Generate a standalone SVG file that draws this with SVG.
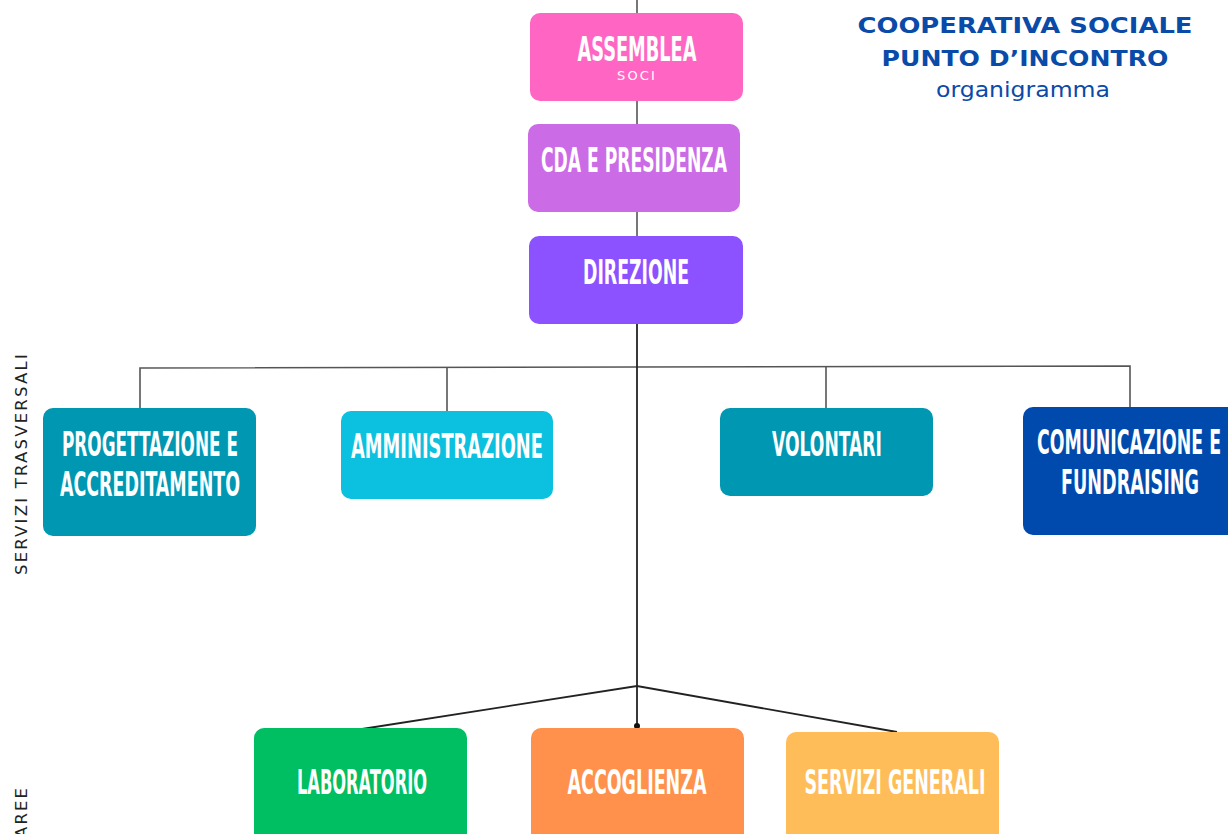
<svg xmlns="http://www.w3.org/2000/svg" width="1228" height="834" viewBox="0 0 1228 834">
<style>
.box{stroke:none}
.lbl{font-family:"Liberation Sans Narrow","DejaVu Sans Condensed","Liberation Sans",sans-serif;font-weight:bold;font-size:34px;fill:#ffffff;text-anchor:middle}
.ttl{font-family:"DejaVu Sans","Liberation Sans",sans-serif;font-weight:bold;font-size:22px;fill:#0a4aa8;text-anchor:middle}
.sub{font-family:"DejaVu Sans","Liberation Sans",sans-serif;font-size:21px;fill:#0a4aa8;text-anchor:middle}
.side{font-family:"DejaVu Sans","Liberation Sans",sans-serif;font-size:15px;fill:#222;letter-spacing:2px}
.ln{stroke:#555;stroke-width:1.6;fill:none}
.lk{stroke:#222;stroke-width:1.8;fill:none}
</style>
<rect width="1228" height="834" fill="#ffffff"/>
<g id="connectors">
<line class="ln" x1="637" y1="0" x2="637" y2="13"/>
<line class="ln" x1="637" y1="101" x2="637" y2="124"/>
<line class="ln" x1="637" y1="212" x2="637" y2="236"/>
<polyline class="ln" points="140,408 140,368 1130,366 1130,407"/>
<line class="ln" x1="447" y1="367" x2="447" y2="411"/>
<line class="ln" x1="826" y1="367" x2="826" y2="408"/>
<line class="lk" x1="637" y1="324" x2="637" y2="727"/>
<polyline class="lk" points="362,729 637,686 897,732"/>
<circle cx="637" cy="726" r="3" fill="#111"/>
</g>
<g id="title">
<text class="ttl" x="1025" y="33" textLength="335" lengthAdjust="spacingAndGlyphs">COOPERATIVA SOCIALE</text>
<text class="ttl" x="1025" y="66" textLength="287" lengthAdjust="spacingAndGlyphs">PUNTO D’INCONTRO</text>
<text class="sub" x="1023" y="97" textLength="174" lengthAdjust="spacingAndGlyphs">organigramma</text>
</g>
<g id="side-labels">
<text class="side" transform="translate(27,575) rotate(-90)" textLength="223" lengthAdjust="spacingAndGlyphs">SERVIZI TRASVERSALI</text>
<text class="side" transform="translate(27,838) rotate(-90)" textLength="52" lengthAdjust="spacingAndGlyphs">AREE</text>
</g>
<g id="assemblea">
<rect class="box" x="530" y="13" width="213" height="88" rx="10" fill="#ff66c4"/>
<text class="lbl" x="637" y="61" textLength="119" lengthAdjust="spacingAndGlyphs">ASSEMBLEA</text>
<text x="637" y="80" text-anchor="middle" font-family="DejaVu Sans,Liberation Sans,sans-serif" font-size="12" fill="#ffffff" letter-spacing="2" textLength="40" lengthAdjust="spacingAndGlyphs">SOCI</text>
</g>
<g id="cda">
<rect class="box" x="528" y="124" width="212" height="88" rx="10" fill="#cb6ce6"/>
<text class="lbl" x="634" y="172" textLength="186" lengthAdjust="spacingAndGlyphs">CDA E PRESIDENZA</text>
</g>
<g id="direzione">
<rect class="box" x="529" y="236" width="214" height="88" rx="10" fill="#8c52ff"/>
<text class="lbl" x="636" y="284" textLength="106" lengthAdjust="spacingAndGlyphs">DIREZIONE</text>
</g>
<g id="progettazione">
<rect class="box" x="43" y="408" width="213" height="128" rx="10" fill="#0097b2"/>
<text class="lbl" x="150" y="456" textLength="176" lengthAdjust="spacingAndGlyphs">PROGETTAZIONE E</text>
<text class="lbl" x="150" y="496" textLength="180" lengthAdjust="spacingAndGlyphs">ACCREDITAMENTO</text>
</g>
<g id="amministrazione">
<rect class="box" x="341" y="411" width="212" height="88" rx="10" fill="#0cc0df"/>
<text class="lbl" x="447" y="458" textLength="192" lengthAdjust="spacingAndGlyphs">AMMINISTRAZIONE</text>
</g>
<g id="volontari">
<rect class="box" x="720" y="408" width="213" height="88" rx="10" fill="#0097b2"/>
<text class="lbl" x="827" y="456" textLength="110" lengthAdjust="spacingAndGlyphs">VOLONTARI</text>
</g>
<g id="comunicazione">
<path class="box" d="M1033,407 H1228 V535 H1033 A10,10 0 0 1 1023,525 V417 A10,10 0 0 1 1033,407 Z" fill="#004aad"/>
<text class="lbl" x="1129" y="454" textLength="184" lengthAdjust="spacingAndGlyphs">COMUNICAZIONE E</text>
<text class="lbl" x="1130" y="494" textLength="138" lengthAdjust="spacingAndGlyphs">FUNDRAISING</text>
</g>
<g id="laboratorio">
<rect class="box" x="254" y="728" width="213" height="116" rx="10" fill="#00bf63"/>
<text class="lbl" x="362" y="794" textLength="130" lengthAdjust="spacingAndGlyphs">LABORATORIO</text>
</g>
<g id="accoglienza">
<rect class="box" x="531" y="728" width="213" height="116" rx="10" fill="#ff914d"/>
<text class="lbl" x="637" y="794" textLength="139" lengthAdjust="spacingAndGlyphs">ACCOGLIENZA</text>
</g>
<g id="servizi-generali">
<rect class="box" x="786" y="732" width="213" height="112" rx="10" fill="#ffbd59"/>
<text class="lbl" x="895" y="794" textLength="181" lengthAdjust="spacingAndGlyphs">SERVIZI GENERALI</text>
</g>
</svg>
